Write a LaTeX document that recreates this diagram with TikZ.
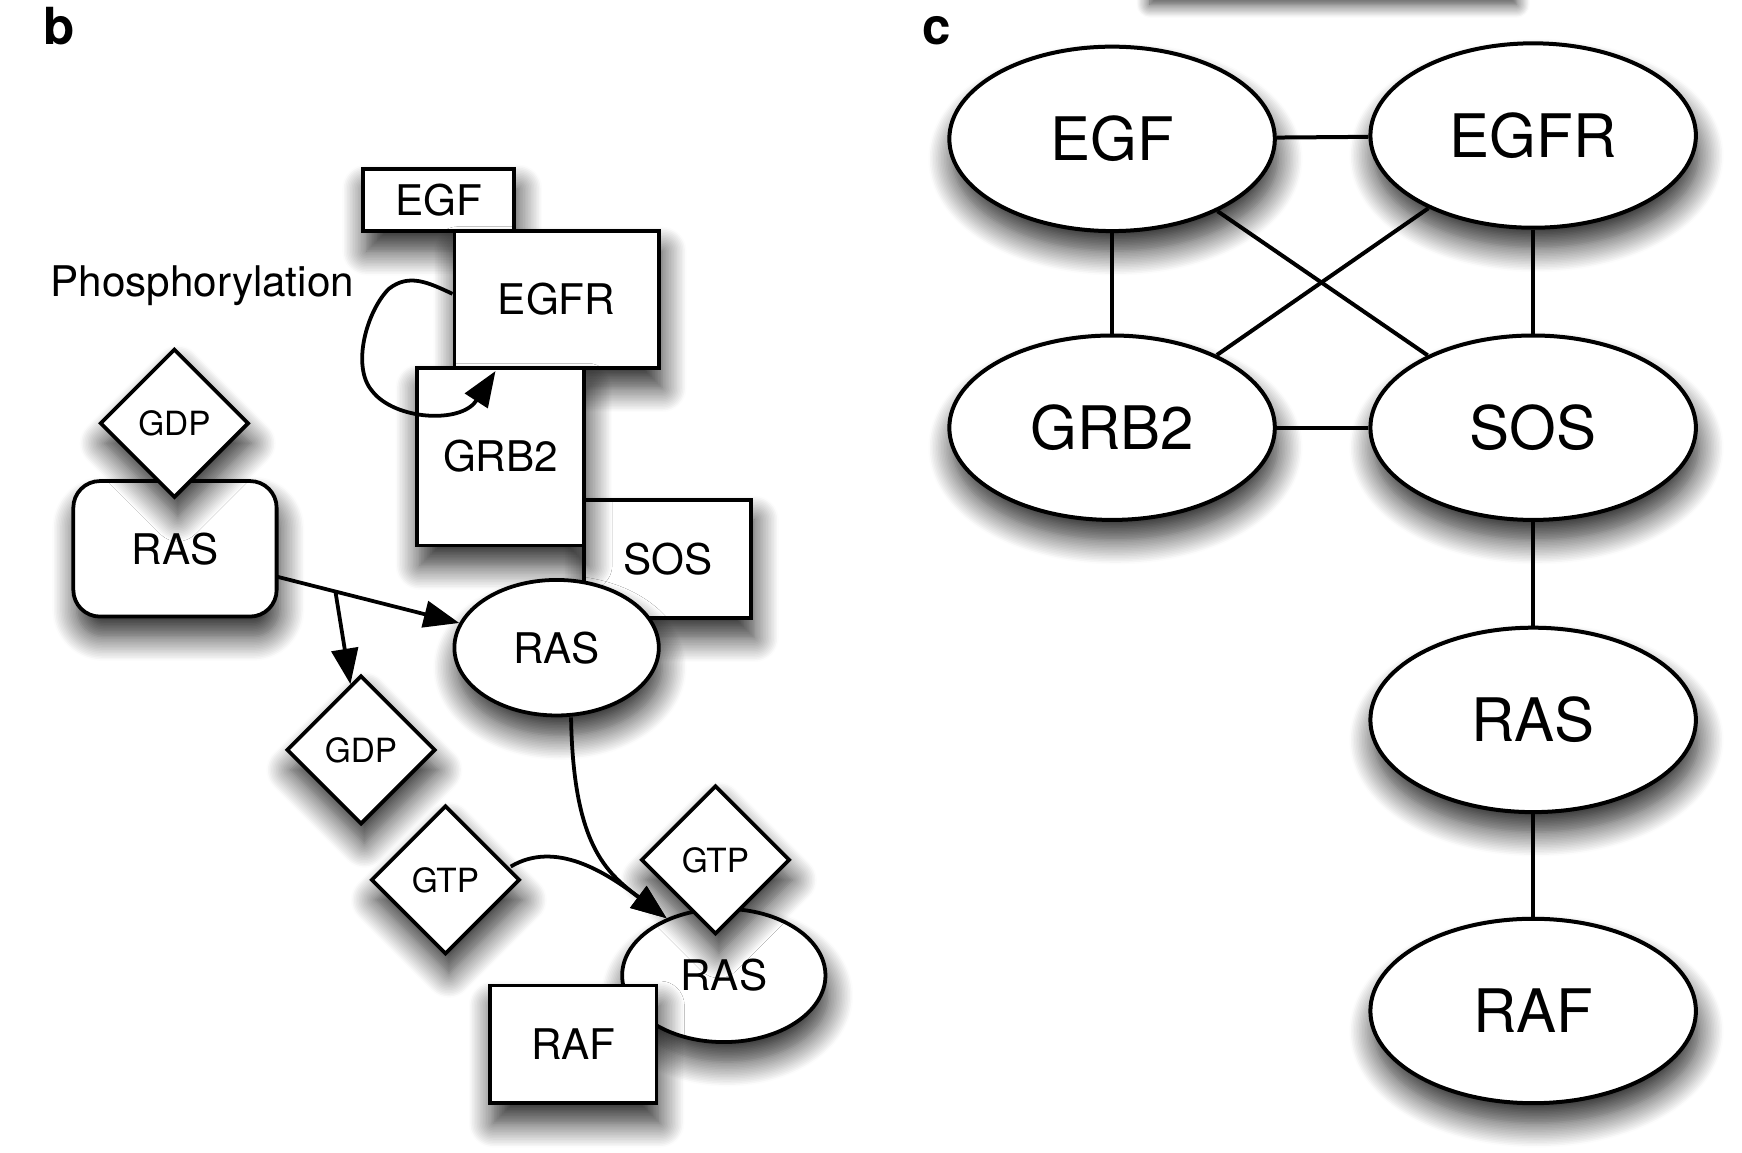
\documentclass[tikz,border=0pt]{standalone}
\usepackage{fontspec}
\setmainfont{TeX Gyre Heros}
\usetikzlibrary{shapes.geometric,arrows.meta,shadows.blur}

\tikzset{
  dropsh/.style={blur shadow={shadow xshift=1.5pt,shadow yshift=-9pt,shadow blur radius=11pt,shadow blur steps=16,shadow opacity=85}},
  box/.style={draw,fill=white,line width=1.7pt,inner sep=0pt,dropsh,font=\fontsize{19}{19}\selectfont},
  rbox/.style={box,rounded corners=12pt},
  ellb/.style={box,ellipse},
  dia/.style={box,diamond,minimum size=67pt,font=\fontsize{15}{15}\selectfont},
  ellc/.style={draw,fill=white,ellipse,line width=1.8pt,minimum width=146.5pt,minimum height=83pt,inner sep=0pt,dropsh,font=\fontsize{27}{27}\selectfont},
  link/.style={line width=1.8pt},
  arr/.style={draw=black,line width=1.7pt,-{Triangle[length=16pt,width=12pt,fill=black]}},
  panel/.style={anchor=base,font=\bfseries\fontsize{23}{23}\selectfont}
}

\begin{document}
\begin{tikzpicture}[x=0.5pt,y=-0.5pt]
\clip (0,0) rectangle (1568,1037);

%shadow of a cut-off box at the top
\path[blur shadow={shadow xshift=0pt,shadow yshift=-4pt,shadow blur radius=6pt,shadow blur steps=12,shadow opacity=80}] (1035,-80) rectangle (1365,-4);

% Text Node
\node[panel] (lblb) at (53,40) {b};
% Text Node
\node[panel] (lblc) at (843,40) {c};

%Shape: Rectangle
\node[box,minimum width=68pt,minimum height=28pt] (egfb) at (395,180) {EGF};
\node[box,minimum width=92pt,minimum height=61.5pt] (egfrb) at (501,269.5) {EGFR};
\node[box,minimum width=75pt,minimum height=53pt] (sosb) at (601,503) {SOS};
\node[box,minimum width=75.5pt,minimum height=80pt] (grb2b) at (450.5,411) {GRB2};

% Text Node
\node[anchor=base,font=\fontsize{19}{19}\selectfont] (phos) at (182,267) {Phosphorylation};

%Shape: Rounded Rect
\node[rbox,minimum width=91.5pt,minimum height=61pt] (rasbox) at (157.5,494) {RAS};
%Shape: Diamond
\node[dia] (gdpa) at (157,381) {GDP};

%Shape: Ellipse
\node[ellb,minimum width=92pt,minimum height=61pt] (rasmid) at (501,583) {RAS};

\node[dia] (gdpb) at (325,675) {GDP};
\node[dia] (gtpa) at (401,792) {GTP};

\node[ellb,minimum width=91.5pt,minimum height=60pt] (raslow) at (651.5,878) {RAS};
\node[dia] (gtpb) at (644,774) {GTP};
\node[box,minimum width=75pt,minimum height=53pt] (rafb) at (516,940) {RAF};

%Curves and arrows
\coordinate (phostip) at (446,334);
\draw[arr] ([yshift=2.5pt]egfrb.west) .. controls (385,254) and (368,246) .. (350,260)
  .. controls (330,280) and (316,330) .. (335,352)
  .. controls (355,378) and (415,382) .. (phostip);

\coordinate (rasout) at (249,519);
\coordinate (fork) at (302,533);
\draw[arr] (rasout) -- (rasmid);
\draw[arr] (fork) -- (gdpb);

\draw[arr] ([xshift=6.5pt]rasmid.south) .. controls (516,760) and (545,785) .. (raslow.135);
\draw[arr] ([shift={(-5pt,6pt)}]gtpa.east) .. controls (500,756) and (545,785) .. (raslow.135);

%Panel c
\node[ellc] (egfc) at (1001,125) {EGF};
\node[ellc] (egfrc) at (1380,122) {EGFR};
\node[ellc] (grb2c) at (1001,385) {GRB2};
\node[ellc] (sosc) at (1380,385) {SOS};
\node[ellc] (rasc) at (1380,648) {RAS};
\node[ellc] (rafc) at (1380,910) {RAF};

\draw[link] (egfc) -- (egfrc);
\draw[link] (egfc) -- (grb2c);
\draw[link] (egfrc) -- (sosc);
\draw[link] (grb2c) -- (sosc);
\draw[link] (egfc) -- (sosc);
\draw[link] (egfrc) -- (grb2c);
\draw[link] (sosc) -- (rasc);
\draw[link] (rasc) -- (rafc);

\end{tikzpicture}
\end{document}
